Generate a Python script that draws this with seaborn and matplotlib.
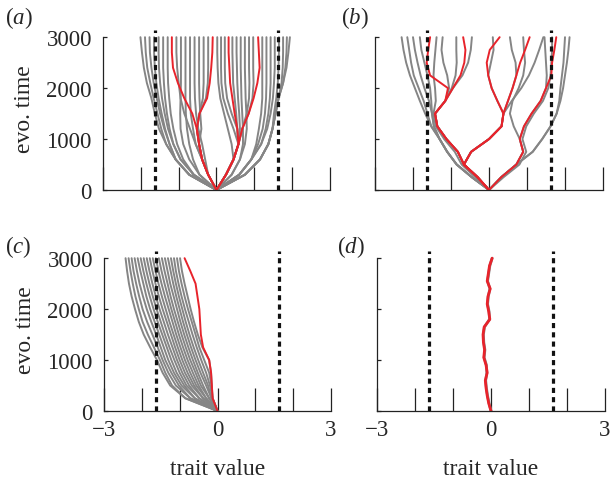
import numpy as np
import pandas as pd
import matplotlib
matplotlib.use("Agg")
import matplotlib.pyplot as plt
import seaborn as sns

# ---------------- data ----------------
# panel (a): lineages, trait value at times T_A
T_A = [0, 300, 600, 900, 1200, 1500, 1800, 2100, 2400, 2700, 3000]
A_GREY = [
    [0, -0.72, -1.08, -1.33, -1.52, -1.63, -1.72, -1.84, -1.92, -1.97, -2.01],
    [0, -0.72, -1.08, -1.33, -1.46, -1.56, -1.66, -1.75, -1.83, -1.87, -1.89],
    [0, -0.72, -1.08, -1.24, -1.38, -1.49, -1.58, -1.66, -1.72, -1.76, -1.77],
    [0, -0.72, -1.08, -1.24, -1.36, -1.45, -1.53, -1.59, -1.63, -1.65, -1.65],
    [0, -0.60, -0.95, -1.14, -1.28, -1.37, -1.44, -1.49, -1.52, -1.53, -1.53],
    [0, -0.60, -0.95, -1.14, -1.24, -1.31, -1.36, -1.39, -1.41, -1.41, -1.41],
    [0, -0.60, -0.88, -1.04, -1.14, -1.21, -1.25, -1.28, -1.29, -1.29, -1.29],
    [0, -0.22, -0.38, -0.55, -0.70, -0.85, -0.95, -1.00, -1.04, -1.06, -1.06],
    [0, -0.45, -0.72, -0.88, -0.95, -0.96, -0.95, -0.94, -0.94, -0.94, -0.94],
    [0, -0.45, -0.62, -0.72, -0.78, -0.81, -0.82, -0.82, -0.82, -0.82, -0.82],
    [0, -0.22, -0.38, -0.55, -0.62, -0.68, -0.70, -0.70, -0.70, -0.70, -0.70],
    [0, -0.22, -0.30, -0.38, -0.48, -0.54, -0.57, -0.58, -0.58, -0.58, -0.58],
    [0, -0.22, -0.38, -0.46, -0.40, -0.43, -0.45, -0.46, -0.46, -0.46, -0.46],
    [0, -0.22, -0.38, -0.46, -0.52, -0.45, -0.36, -0.34, -0.34, -0.34, -0.34],
    [0, -0.22, -0.38, -0.46, -0.52, -0.45, -0.28, -0.23, -0.22, -0.22, -0.22],
    [0, 0.25, 0.45, 0.40, 0.30, 0.20, 0.10, 0.05, 0.03, 0.02, 0.02],
    [0, 0.25, 0.45, 0.58, 0.45, 0.30, 0.18, 0.13, 0.12, 0.12, 0.12],
    [0, 0.25, 0.45, 0.58, 0.55, 0.40, 0.28, 0.23, 0.22, 0.22, 0.22],
    [0, 0.25, 0.45, 0.58, 0.55, 0.52, 0.48, 0.44, 0.43, 0.42, 0.42],
    [0, 0.25, 0.45, 0.58, 0.62, 0.60, 0.57, 0.55, 0.54, 0.53, 0.53],
    [0, 0.40, 0.62, 0.70, 0.70, 0.68, 0.66, 0.65, 0.64, 0.64, 0.64],
    [0, 0.40, 0.62, 0.75, 0.80, 0.79, 0.77, 0.76, 0.75, 0.75, 0.75],
    [0, 0.25, 0.45, 0.58, 0.68, 0.80, 0.86, 0.87, 0.86, 0.86, 0.86],
    [0, 0.25, 0.45, 0.58, 0.68, 0.85, 0.95, 0.98, 0.97, 0.97, 0.97],
    [0, 0.60, 0.92, 1.05, 1.12, 1.18, 1.21, 1.21, 1.21, 1.21, 1.21],
    [0, 0.60, 0.92, 1.10, 1.22, 1.28, 1.31, 1.32, 1.32, 1.32, 1.32],
    [0, 0.60, 0.92, 1.18, 1.30, 1.37, 1.41, 1.43, 1.43, 1.43, 1.43],
    [0, 0.60, 0.92, 1.18, 1.34, 1.43, 1.49, 1.52, 1.54, 1.54, 1.54],
    [0, 0.75, 1.15, 1.37, 1.48, 1.52, 1.58, 1.62, 1.64, 1.65, 1.65],
    [0, 0.75, 1.15, 1.37, 1.48, 1.56, 1.64, 1.72, 1.75, 1.76, 1.76],
    [0, 0.75, 1.15, 1.37, 1.48, 1.56, 1.64, 1.76, 1.82, 1.85, 1.86],
    [0, 0.75, 1.15, 1.37, 1.48, 1.56, 1.64, 1.76, 1.85, 1.90, 1.94],
]
A_RED = [
    [0, -0.22, -0.38, -0.46, -0.52, -0.64, -0.85, -1.02, -1.15, -1.18, -1.18],
    [0, -0.22, -0.38, -0.46, -0.52, -0.45, -0.25, -0.18, -0.14, -0.11, -0.10],
    [0, 0.25, 0.45, 0.58, 0.55, 0.48, 0.42, 0.36, 0.34, 0.32, 0.32],
    [0, 0.25, 0.45, 0.58, 0.68, 0.85, 0.98, 1.08, 1.14, 1.12, 1.10],
]

# panel (b)
T_B = [0, 250, 500, 750, 1000, 1250, 1500, 1750, 2000, 2250, 2500, 2750, 3000]
B_GREY = [
    [0, -0.45, -0.85, -1.10, -1.30, -1.52, -1.68, -1.82, -1.95, -2.08, -2.18, -2.25, -2.30],
    [0, -0.45, -0.85, -1.10, -1.30, -1.52, -1.62, -1.72, -1.85, -1.98, -2.05, -2.10, -2.15],
    [0, -0.45, -0.85, -1.10, -1.30, -1.45, -1.50, -1.58, -1.70, -1.80, -1.88, -1.95, -2.00],
    [0, -0.45, -0.85, -1.10, -1.30, -1.45, -1.50, -1.52, -1.55, -1.62, -1.70, -1.78, -1.82],
    [0, -0.36, -0.72, -0.90, -1.18, -1.40, -1.46, -1.40, -1.42, -1.46, -1.44, -1.41, -1.38],
    [0, -0.30, -0.66, -0.82, -1.12, -1.36, -1.42, -1.15, -1.05, -1.10, -1.20, -1.25, -1.22],
    [0, -0.30, -0.66, -0.82, -1.12, -1.36, -1.42, -1.15, -0.95, -0.70, -0.55, -0.48, -0.45],
    [0, -0.30, -0.66, -0.82, -1.12, -1.36, -1.42, -1.15, -0.98, -0.88, -0.85, -0.86, -0.86],
    [0, -0.30, -0.66, -0.47, 0.00, 0.33, 0.38, 0.22, 0.07, -0.02, 0.05, 0.12, 0.10],
    [0, -0.30, -0.66, -0.47, 0.00, 0.33, 0.38, 0.50, 0.62, 0.72, 0.70, 0.60, 0.55],
    [0, -0.30, -0.66, -0.47, 0.00, 0.33, 0.38, 0.60, 0.85, 1.05, 1.20, 1.32, 1.43],
    [0, 0.32, 0.72, 1.15, 1.40, 1.62, 1.78, 1.88, 1.95, 2.00, 2.05, 2.09, 2.12],
    [0, 0.32, 0.72, 1.15, 1.40, 1.62, 1.78, 1.85, 1.88, 1.92, 1.96, 1.98, 2.00],
    [0, 0.38, 0.80, 0.98, 0.88, 0.98, 1.18, 1.42, 1.56, 1.62, 1.64, 1.66, 1.66],
    [0, 0.32, 0.72, 0.90, 0.81, 0.65, 0.55, 0.62, 0.78, 0.90, 0.95, 0.92, 0.90],
    [0, 0.32, 0.72, 0.90, 0.81, 0.92, 1.12, 1.36, 1.50, 1.52, 1.50, 1.48, 1.46],
]
B_RED = [
    [0, -0.30, -0.66, -0.82, -1.12, -1.36, -1.42, -1.15, -1.08, -1.55, -1.64, -1.60, -1.55],
    [0, -0.30, -0.66, -0.82, -1.12, -1.36, -1.42, -1.15, -0.95, -0.75, -0.65, -0.62, -0.68],
    [0, -0.30, -0.66, -0.47, 0.00, 0.33, 0.38, 0.22, 0.07, -0.02, -0.06, 0.02, 0.28],
    [0, -0.30, -0.66, -0.47, 0.00, 0.33, 0.38, 0.50, 0.62, 0.72, 0.82, 0.95, 1.07],
    [0, 0.32, 0.72, 0.90, 0.81, 0.92, 1.12, 1.36, 1.50, 1.64, 1.66, 1.72, 1.77],
]

# panel (c)
T_C = [0, 250, 500, 750, 1000, 1250, 1500, 1750, 2000, 2250, 2500, 2750, 3000]
C_GREY = [
    [0, -0.85, -1.25, -1.45, -1.60, -1.78, -1.95, -2.08, -2.18, -2.27, -2.34, -2.39, -2.43],
    [0, -0.85, -1.20, -1.38, -1.52, -1.68, -1.84, -1.98, -2.08, -2.17, -2.24, -2.30, -2.35],
    [0, -0.72, -1.10, -1.30, -1.45, -1.58, -1.72, -1.86, -1.98, -2.07, -2.15, -2.22, -2.27],
    [0, -0.72, -1.02, -1.22, -1.38, -1.50, -1.62, -1.75, -1.87, -1.97, -2.06, -2.13, -2.19],
    [0, -0.60, -0.95, -1.15, -1.30, -1.42, -1.54, -1.66, -1.78, -1.88, -1.96, -2.04, -2.11],
    [0, -0.60, -0.88, -1.08, -1.22, -1.34, -1.46, -1.58, -1.69, -1.79, -1.88, -1.96, -2.03],
    [0, -0.48, -0.82, -1.00, -1.14, -1.27, -1.39, -1.50, -1.61, -1.71, -1.80, -1.88, -1.95],
    [0, -0.48, -0.75, -0.93, -1.07, -1.19, -1.31, -1.42, -1.53, -1.63, -1.72, -1.80, -1.87],
    [0, -0.38, -0.68, -0.86, -1.00, -1.12, -1.23, -1.34, -1.45, -1.55, -1.64, -1.72, -1.79],
    [0, -0.38, -0.62, -0.79, -0.93, -1.05, -1.16, -1.27, -1.37, -1.47, -1.56, -1.64, -1.71],
    [0, -0.30, -0.56, -0.72, -0.86, -0.98, -1.09, -1.19, -1.29, -1.39, -1.48, -1.56, -1.63],
    [0, -0.30, -0.50, -0.65, -0.79, -0.91, -1.02, -1.12, -1.22, -1.31, -1.40, -1.48, -1.55],
    [0, -0.22, -0.44, -0.58, -0.72, -0.84, -0.95, -1.05, -1.15, -1.24, -1.32, -1.40, -1.47],
    [0, -0.22, -0.38, -0.52, -0.65, -0.77, -0.88, -0.98, -1.07, -1.16, -1.25, -1.32, -1.39],
    [0, -0.16, -0.30, -0.45, -0.58, -0.70, -0.81, -0.91, -1.00, -1.09, -1.17, -1.24, -1.31],
    [0, -0.16, -0.25, -0.38, -0.51, -0.63, -0.74, -0.84, -0.93, -1.02, -1.10, -1.17, -1.23],
    [0, -0.13, -0.20, -0.30, -0.43, -0.55, -0.66, -0.76, -0.86, -0.95, -1.03, -1.10, -1.15],
    [0, -0.13, -0.16, -0.22, -0.35, -0.48, -0.58, -0.68, -0.78, -0.87, -0.95, -1.02, -1.07],
    [0, -0.13, -0.15, -0.17, -0.22, -0.40, -0.52, -0.62, -0.71, -0.79, -0.87, -0.94, -0.99],
]
C_RED = [
    [0, -0.13, -0.15, -0.17, -0.22, -0.38, -0.44, -0.46, -0.48, -0.53, -0.58, -0.72, -0.87],
]

# panel (d)
T_D = [0, 150, 300, 450, 600, 750, 900, 1050, 1200, 1350, 1500, 1650, 1800,
       1950, 2100, 2250, 2400, 2550, 2700, 2850, 3000]
D_GREY = [
    [0.0, -0.05, -0.09, -0.12, -0.14, -0.11, -0.12, -0.18, -0.16, -0.19, -0.20,
     -0.17, -0.04, -0.05, -0.09, -0.07, -0.03, -0.09, -0.06, -0.03, 0.03],
]
D_RED = [
    [0.0, -0.06, -0.10, -0.13, -0.15, -0.10, -0.13, -0.19, -0.17, -0.20, -0.21,
     -0.18, -0.03, -0.06, -0.10, -0.08, -0.02, -0.10, -0.07, -0.04, 0.03],
]

THRESHOLDS = [-1.62, 1.62]
X_TICKS = [-3, -2, -1, 0, 1, 2, 3]
X_TICKLABELS = ["\u22123", "", "", "0", "", "", "3"]
Y_TICKS = [0, 1000, 2000, 3000]
PANEL_LABELS = ["a", "b", "c", "d"]

GREY = "#858585"
RED = "#e8232b"

# ---------------- style ----------------
sns.set_style("ticks")
plt.rcParams["font.family"] = ["Liberation Serif", "DejaVu Serif"]
plt.rcParams["mathtext.fontset"] = "custom"
plt.rcParams["mathtext.it"] = "Liberation Serif:italic"
plt.rcParams["mathtext.rm"] = "Liberation Serif"


def long_df(T, rows):
    recs = []
    for i, row in enumerate(rows):
        for t, x in zip(T, row):
            recs.append((i, t, x))
    return pd.DataFrame(recs, columns=["lineage", "t", "x"])


fig = plt.figure(figsize=(6.11, 4.81), dpi=100)
W, H = 611, 481
boxes = [
    (103, 191, 227),
    (375, 191, 228),
    (104, 412, 227),
    (377, 412, 228),
]
panels = [
    (T_A, A_GREY, A_RED),
    (T_B, B_GREY, B_RED),
    (T_C, C_GREY, C_RED),
    (T_D, D_GREY, D_RED),
]
axh = 163.0

for k, ((x0, ybot, wpx), (T, grey, red)) in enumerate(zip(boxes, panels)):
    ax = fig.add_axes([x0 / W, 1 - ybot / H, wpx / W, axh / H])
    lw = 2.0 if k == 3 else 1.4
    sns.lineplot(data=long_df(T, grey), x="x", y="t", units="lineage",
                 estimator=None, sort=False, color=GREY, lw=lw, ax=ax,
                 legend=False)
    sns.lineplot(data=long_df(T, red), x="x", y="t", units="lineage",
                 estimator=None, sort=False, color=RED, lw=lw, ax=ax,
                 legend=False)
    ax.vlines(THRESHOLDS, 0, 3150, colors="#111111", linestyles=(0, (1.6, 1.3)),
              lw=2.3, zorder=5)
    ax.set_xlim(-3, 3)
    ax.set_ylim(0, 3200)
    sns.despine(ax=ax)
    ax.spines["left"].set_bounds(0, 3000)
    ax.spines["bottom"].set_bounds(-3, 3)
    for s in ("left", "bottom"):
        ax.spines[s].set_linewidth(0.9)
        ax.spines[s].set_color("#222222")
    ax.set_xticks(X_TICKS)
    ax.set_yticks(Y_TICKS)
    ax.tick_params(axis="x", direction="in", length=16.5, width=0.9,
                   color="#222222", labelsize=16.5, pad=6)
    ax.tick_params(axis="y", direction="in", length=3, width=0.9,
                   color="#222222", labelsize=16.5, pad=8)
    if k >= 2:
        ax.set_xticklabels(X_TICKLABELS)
        ax.set_xlabel("trait value", fontsize=17, labelpad=13)
    else:
        ax.set_xticklabels([""] * len(X_TICKS))
        ax.set_xlabel("")
    if k % 2 == 0:
        ax.set_yticklabels([str(v) for v in Y_TICKS])
        ax.set_ylabel("evo. time", fontsize=17, labelpad=8)
    else:
        ax.set_yticklabels([""] * len(Y_TICKS))
        ax.set_ylabel("")

label_pos = [(5, 18), (341, 18), (5, 247), (337, 247)]
for lab, (px, py) in zip(PANEL_LABELS, label_pos):
    fig.text(px / W, 1 - py / H, "($\\mathit{" + lab + "}$)", fontsize=16.5,
             ha="left", va="center")

fig.savefig("out.png", dpi=100)
